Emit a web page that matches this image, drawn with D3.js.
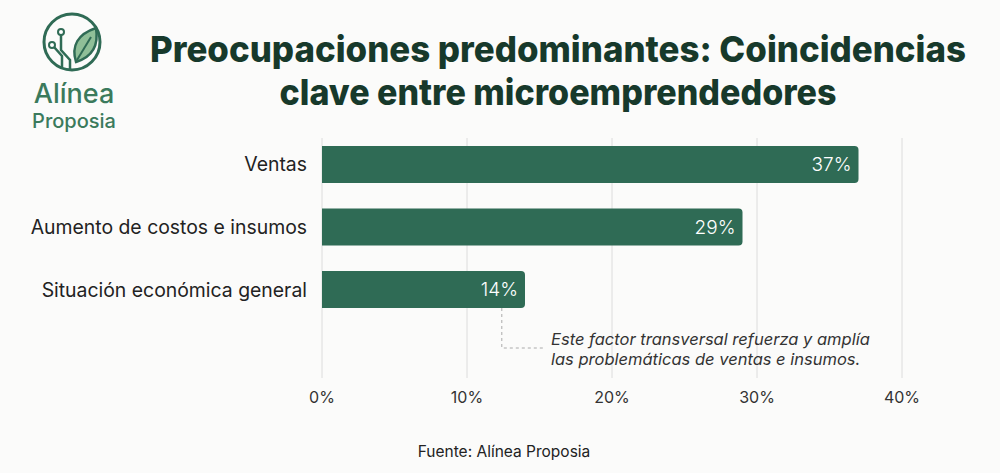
<!DOCTYPE html>
<html>
<head>
<meta charset="utf-8">
<script src="https://cdn.jsdelivr.net/npm/d3@7"></script>
<style>
  body { margin: 0; background: #fbfbfa; }
  svg { display: block; }
</style>
</head>
<body>
<svg id="chart" width="1000" height="473"></svg>
<script>
"use strict";

const categories = ["Ventas", "Aumento de costos e insumos", "Situación económica general"];
const values = [37, 29, 14];
const ticks = [0, 10, 20, 30, 40];
const titleLines = ["Preocupaciones predominantes: Coincidencias", "clave entre microemprendedores"];
const noteLines = ["Este factor transversal refuerza y amplía", "las problemáticas de ventas e insumos."];
const noteAt = 12.4;

const barColor = "#2f6b55";
const darkGreen = "#17392b";
const bodyFont = "Inter, sans-serif";

const svg = d3.select("#chart");

// scales
const x = d3.scaleLinear().domain([0, 40]).range([322, 902]);
const y = d3.scaleBand().domain(categories).range([146, 308]).paddingInner(0.41).paddingOuter(0);

// gridlines
svg.append("g").selectAll("line")
    .data(ticks)
    .join("line")
    .attr("x1", d => x(d)).attr("x2", d => x(d))
    .attr("y1", 138).attr("y2", 378)
    .attr("stroke", "#dcdcdc").attr("stroke-width", 1);

// bars, rounded on the right only
function barPath(d, i) {
    const x0 = x(0), x1 = x(d), y0 = y(categories[i]), h = y.bandwidth(), r = 4;
    return `M${x0},${y0} H${x1 - r} Q${x1},${y0} ${x1},${y0 + r} V${y0 + h - r} Q${x1},${y0 + h} ${x1 - r},${y0 + h} H${x0} Z`;
}
svg.append("g").selectAll("path")
    .data(values)
    .join("path")
    .attr("d", barPath)
    .attr("fill", barColor);

svg.append("g").selectAll("text")
    .data(values)
    .join("text")
    .attr("x", d => x(d) - 7)
    .attr("y", (d, i) => y(categories[i]) + y.bandwidth() / 2)
    .attr("dy", "0.36em")
    .attr("text-anchor", "end")
    .attr("fill", "#ffffff")
    .attr("font-family", bodyFont)
    .attr("font-weight", 300)
    .attr("font-size", 19)
    .text(d => d + "%");

// category labels
svg.append("g").selectAll("text")
    .data(categories)
    .join("text")
    .attr("x", 307)
    .attr("y", d => y(d) + y.bandwidth() / 2)
    .attr("dy", "0.36em")
    .attr("text-anchor", "end")
    .attr("fill", "#222")
    .attr("font-family", bodyFont)
    .attr("font-size", 19.4)
    .text(d => d);

// x tick labels
svg.append("g").selectAll("text")
    .data(ticks)
    .join("text")
    .attr("x", d => x(d))
    .attr("y", 403)
    .attr("text-anchor", "middle")
    .attr("fill", "#333")
    .attr("font-family", bodyFont)
    .attr("font-size", 16)
    .text(d => d + "%");

// annotation
const lastBar = categories[2];
const ax = x(noteAt);
svg.append("path")
    .attr("d", `M${ax},${y(lastBar) + y.bandwidth()} V348 H544`)
    .attr("fill", "none")
    .attr("stroke", "#aaa")
    .attr("stroke-width", 1)
    .attr("stroke-dasharray", "3,3");
svg.append("g").selectAll("text")
    .data(noteLines)
    .join("text")
    .attr("x", 551)
    .attr("y", (d, i) => 345 + i * 20)
    .attr("fill", "#333")
    .attr("font-family", bodyFont)
    .attr("font-style", "italic")
    .attr("font-size", 16.5)
    .text(d => d);

// title
svg.append("g").selectAll("text")
    .data(titleLines)
    .join("text")
    .attr("x", 558)
    .attr("y", (d, i) => 62 + i * 43)
    .attr("text-anchor", "middle")
    .attr("fill", darkGreen)
    .attr("font-family", "Inter, sans-serif")
    .attr("font-weight", 800)
    .attr("font-size", 36)
    .attr("textLength", (d, i) => i === 0 ? 816 : 557)
    .attr("lengthAdjust", "spacingAndGlyphs")
    .text(d => d);

// source
svg.append("text")
    .attr("x", 504).attr("y", 457)
    .attr("text-anchor", "middle")
    .attr("fill", "#222")
    .attr("font-family", bodyFont)
    .attr("font-size", 15.5)
    .text("Fuente: Alínea Proposia");

// logo
const logo = svg.append("g");
logo.append("circle")
    .attr("cx", 72).attr("cy", 42).attr("r", 28)
    .attr("fill", "none").attr("stroke", barColor).attr("stroke-width", 3);
logo.append("path")
    .attr("d", "M76,62 C71,46 78,34 96,28 C99,46 92,57 76,62 Z")
    .attr("fill", "#8fbf98").attr("stroke", barColor).attr("stroke-width", 2.5);
logo.append("path")
    .attr("d", "M77,60 L91,37")
    .attr("fill", "none").attr("stroke", barColor).attr("stroke-width", 2);
logo.append("path")
    .attr("d", "M61,35 V50 L70,60 V69 M54,47 L62,56 V68")
    .attr("fill", "none").attr("stroke", barColor).attr("stroke-width", 2.5);
logo.append("circle").attr("cx", 61).attr("cy", 32).attr("r", 3)
    .attr("fill", "#fff").attr("stroke", barColor).attr("stroke-width", 2);
logo.append("circle").attr("cx", 52).attr("cy", 45).attr("r", 3)
    .attr("fill", "#fff").attr("stroke", barColor).attr("stroke-width", 2);
logo.append("text")
    .attr("x", 74).attr("y", 103)
    .attr("text-anchor", "middle")
    .attr("fill", "#3b7a5c")
    .attr("font-family", bodyFont)
    .attr("font-weight", 500)
    .attr("font-size", 27)
    .text("Alínea");
logo.append("text")
    .attr("x", 74).attr("y", 128)
    .attr("text-anchor", "middle")
    .attr("fill", "#3b7a5c")
    .attr("font-family", bodyFont)
    .attr("font-weight", 500)
    .attr("font-size", 20)
    .text("Proposia");
</script>
</body>
</html>
